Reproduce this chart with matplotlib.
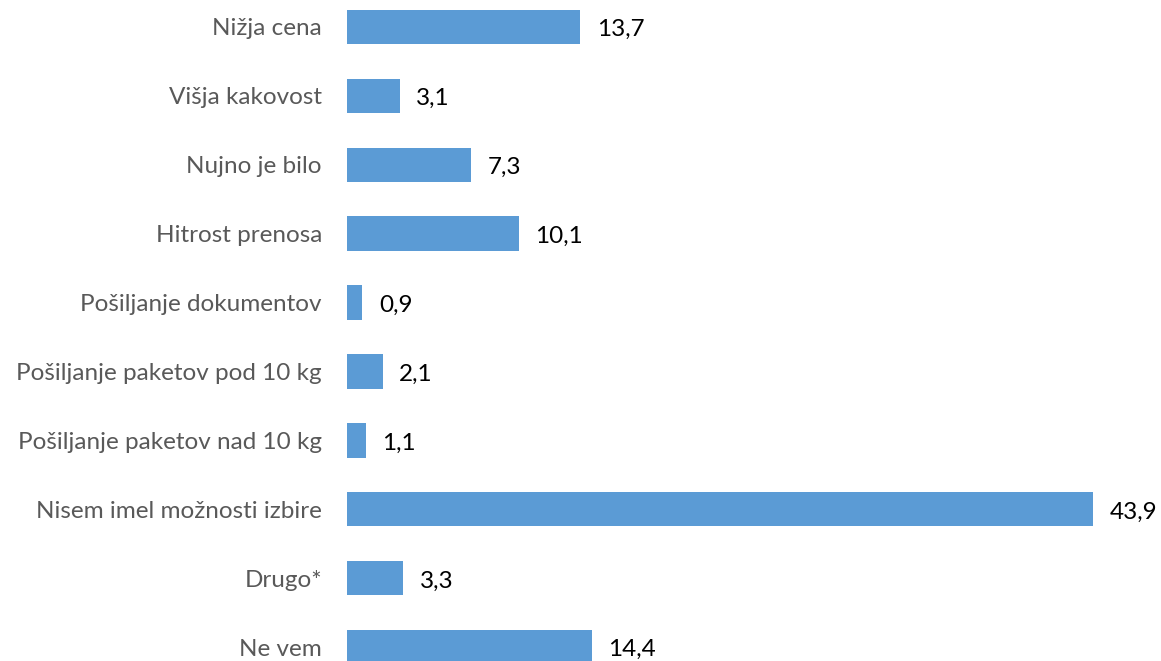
import matplotlib
matplotlib.use("Agg")
import matplotlib.pyplot as plt

categories = ["Nižja cena", "Višja kakovost", "Nujno je bilo", "Hitrost prenosa",
              "Pošiljanje dokumentov", "Pošiljanje paketov pod 10 kg",
              "Pošiljanje paketov nad 10 kg", "Nisem imel možnosti izbire",
              "Drugo*", "Ne vem"]
values = [13.7, 3.1, 7.3, 10.1, 0.9, 2.1, 1.1, 43.9, 3.3, 14.4]
value_labels = ["13,7", "3,1", "7,3", "10,1", "0,9", "2,1", "1,1", "43,9", "3,3", "14,4"]

plt.rcParams['font.family'] = ['Lato', 'DejaVu Sans']

fig = plt.figure(figsize=(11.61, 6.61), dpi=100)
ax = fig.add_axes([347 / 1161, 0, 1 - 347 / 1161, 1])

pos = list(range(len(categories)))
ax.barh(pos, values, height=0.5, color="#5B9BD5")
for p, v, lab in zip(pos, values, value_labels):
    ax.annotate(lab, (v, p), xytext=(12, -2), textcoords="offset points",
                va="center", ha="left", fontsize=17.5, color="black")

ax.set_yticks(pos)
ax.set_yticklabels(categories, fontsize=17.5, color="#595959")
ax.tick_params(axis="y", length=0, pad=18)
ax.set_xticks([])
ax.set_xlim(0, (1161 - 347) / 17.0)
ax.set_ylim(9 + 14 / 68.9, -27 / 68.9)
for s in ax.spines.values():
    s.set_visible(False)

fig.savefig("out.png", dpi=100)
